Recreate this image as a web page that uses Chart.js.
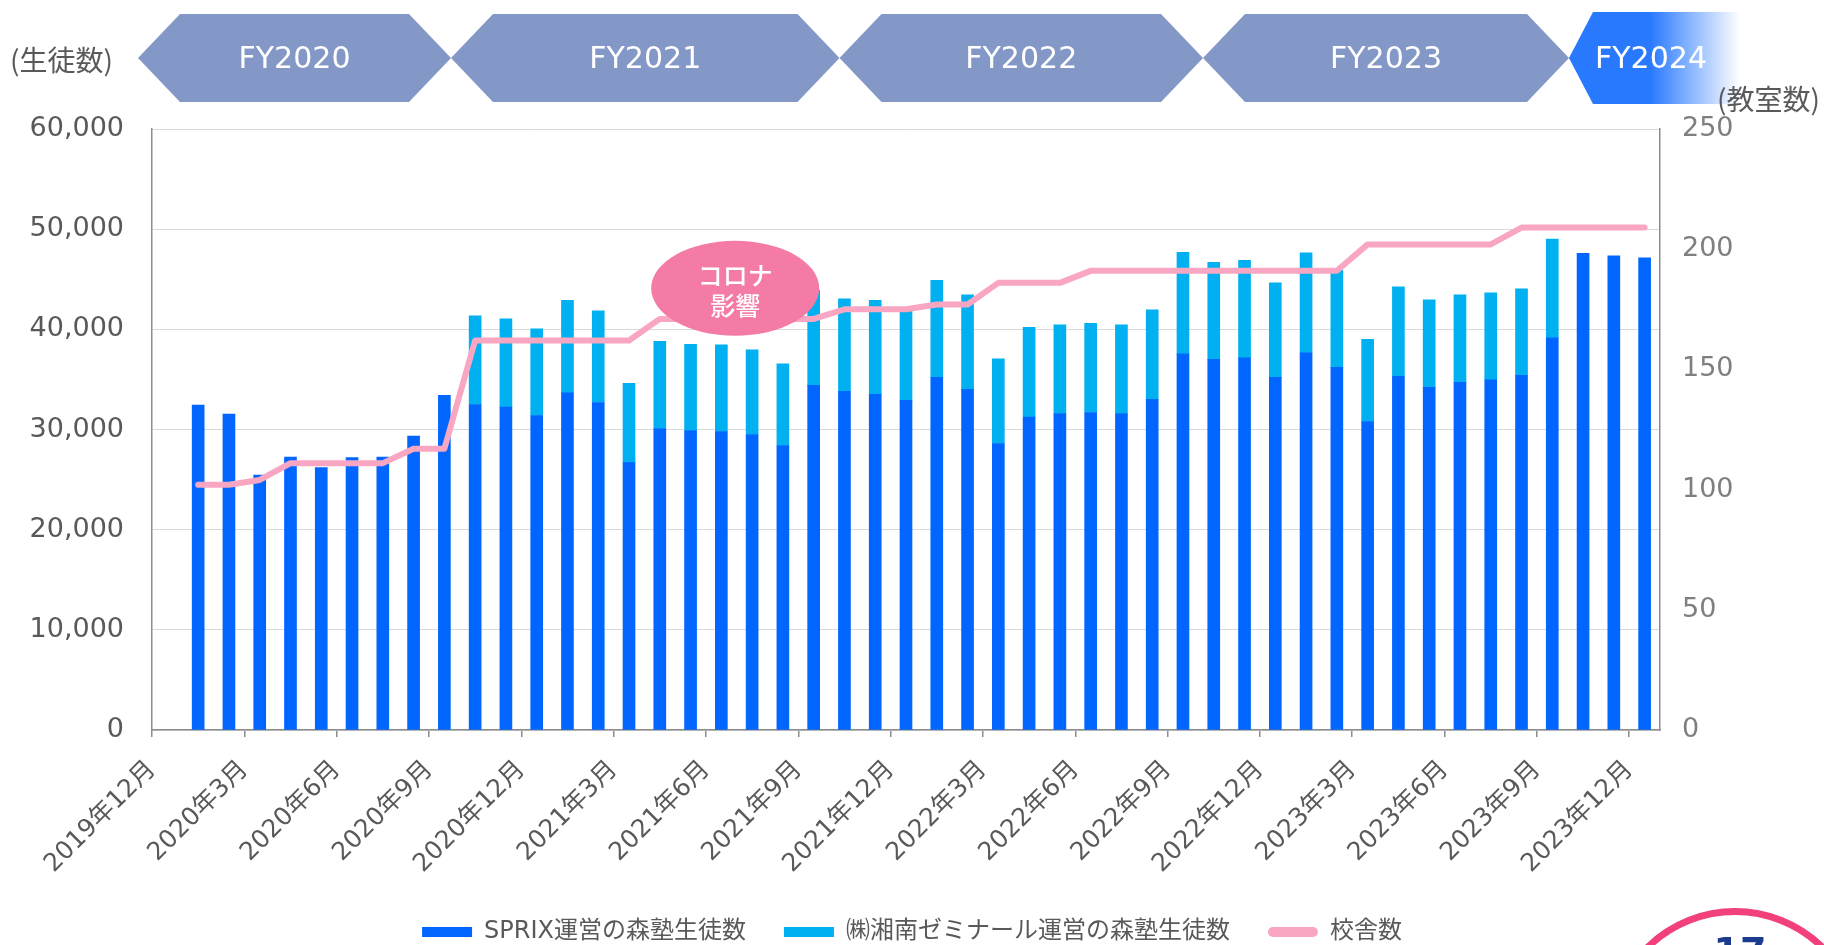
<!DOCTYPE html>
<html lang="ja">
<head>
<meta charset="UTF-8">
<title>森塾 生徒数・校舎数の推移</title>
<script src="https://cdn.jsdelivr.net/npm/chart.js@4.4.2/dist/chart.umd.min.js"></script>
<style>
  html, body { margin: 0; padding: 0; background: #ffffff; }
  .wrap { position: relative; width: 1824px; height: 945px; overflow: hidden; }
</style>
</head>
<body>
<div class="wrap"><canvas id="chart" width="1824" height="945"></canvas></div>
<script>
// x axis: one slot per month, tick labels every 3 months
const tickLabels = ['2019年12月', '2020年3月', '2020年6月', '2020年9月', '2020年12月',
  '2021年3月', '2021年6月', '2021年9月', '2021年12月', '2022年3月', '2022年6月',
  '2022年9月', '2022年12月', '2023年3月', '2023年6月', '2023年9月', '2023年12月'];

const months = ['2020年1月', '2020年2月', '2020年3月', '2020年4月', '2020年5月', '2020年6月',
  '2020年7月', '2020年8月', '2020年9月', '2020年10月', '2020年11月', '2020年12月',
  '2021年1月', '2021年2月', '2021年3月', '2021年4月', '2021年5月', '2021年6月',
  '2021年7月', '2021年8月', '2021年9月', '2021年10月', '2021年11月', '2021年12月',
  '2022年1月', '2022年2月', '2022年3月', '2022年4月', '2022年5月', '2022年6月',
  '2022年7月', '2022年8月', '2022年9月', '2022年10月', '2022年11月', '2022年12月',
  '2023年1月', '2023年2月', '2023年3月', '2023年4月', '2023年5月', '2023年6月',
  '2023年7月', '2023年8月', '2023年9月', '2023年10月', '2023年11月', '2023年12月'];

// SPRIX運営の森塾生徒数
const sprixStudents = [32450, 31550, 25450, 27250, 26200, 27200, 27250, 29350, 33400, 32500,
  32250, 31400, 33650, 32700, 26700, 30100, 29900, 29800, 29500, 28400,
  34400, 33800, 33500, 32900, 35200, 34000, 28600, 31250, 31600, 31700,
  31600, 33000, 37550, 37000, 37150, 35200, 37650, 36200, 30800, 35300,
  34200, 34700, 34950, 35400, 39150, 47600, 47350, 47150];

// ㈱湘南ゼミナール運営の森塾生徒数
const shonanStudents = [null, null, null, null, null, null, null, null, null, 8850,
  8800, 8650, 9250, 9150, 7900, 8700, 8600, 8650, 8450, 8150,
  9500, 9250, 9400, 8950, 9700, 9450, 8450, 8950, 8850, 8900,
  8850, 8950, 10150, 9700, 9750, 9450, 10000, 9700, 8200, 8950,
  8750, 8750, 8700, 8650, 9850, null, null, null];

// 校舎数
const schools = [102, 102, 104, 111, 111, 111, 111, 117, 117, 162,
  162, 162, 162, 162, 162, 171, 171, 171, 171, 171,
  171, 175, 175, 175, 177, 177, 186, 186, 186, 191,
  191, 191, 191, 191, 191, 191, 191, 191, 202, 202,
  202, 202, 202, 209, 209, 209, 209, 209];

const fiscalYears = ['FY2020', 'FY2021', 'FY2022', 'FY2023', 'FY2024'];

const SANS = '"DejaVu Sans", "Noto Sans CJK JP", sans-serif';
const CJK = '"Noto Sans CJK JP", sans-serif';
Chart.defaults.font.family = SANS;
Chart.defaults.color = '#595959';

const slot = i => i + 1.5;   // bar sits in the middle of its month slot
const toPoints = arr => arr.map((v, i) => ({ x: slot(i), y: v })).filter(p => p.y !== null);

const LEGEND_PAD = 38;

// legend sits lower than Chart.js would put it
const legendFitPlugin = {
  id: 'legendFit',
  beforeLayout(chart) {
    const lg = chart.legend;
    if (lg && !lg._fitPatched) {
      const fit = lg.fit;
      lg.fit = function () { fit.call(this); this.height = 25 + LEGEND_PAD; };
      lg._fitPatched = true;
    }
  }
};

// コロナ影響 bubble, drawn over the data
const coronaPlugin = {
  id: 'corona',
  afterDatasetsDraw(chart) {
    const { ctx, scales } = chart;
    const cx = scales.x.getPixelForValue(18.95);
    const cy = scales.y.getPixelForValue(44100);
    ctx.save();
    ctx.fillStyle = '#f47ba5';
    ctx.beginPath();
    ctx.ellipse(cx, cy, 84, 47.5, 0, 0, Math.PI * 2);
    ctx.fill();
    ctx.fillStyle = '#ffffff';
    ctx.font = '500 25px ' + CJK;
    ctx.textAlign = 'center';
    ctx.textBaseline = 'middle';
    ctx.fillText('コロナ', cx, cy - 13);
    ctx.fillText('影響', cx, cy + 17);
    ctx.restore();
  }
};

// fiscal-year banner, axis unit labels and the page badge
const decorPlugin = {
  id: 'decor',
  afterDraw(chart) {
    const ctx = chart.ctx;
    ctx.save();
    const bands = [[138, 451], [451, 839.5], [839.5, 1203], [1203, 1569]];
    bands.forEach(([l, r], i) => {
      ctx.fillStyle = '#8498c8';
      ctx.beginPath();
      ctx.moveTo(l, 58);
      ctx.lineTo(l + 42, 14);
      ctx.lineTo(r - 42, 14);
      ctx.lineTo(r, 58);
      ctx.lineTo(r - 42, 102);
      ctx.lineTo(l + 42, 102);
      ctx.closePath();
      ctx.fill();
      ctx.fillStyle = '#ffffff';
      ctx.font = '30px ' + SANS;
      ctx.textAlign = 'center';
      ctx.textBaseline = 'middle';
      ctx.fillText(fiscalYears[i], (l + r) / 2, 60);
    });
    const g = ctx.createLinearGradient(1650, 0, 1740, 0);
    g.addColorStop(0, '#2979ff');
    g.addColorStop(1, 'rgba(41,121,255,0)');
    ctx.fillStyle = g;
    ctx.beginPath();
    ctx.moveTo(1569, 58);
    ctx.lineTo(1593, 12);
    ctx.lineTo(1745, 12);
    ctx.lineTo(1745, 104);
    ctx.lineTo(1593, 104);
    ctx.closePath();
    ctx.fill();
    ctx.fillStyle = '#ffffff';
    ctx.font = '30px ' + SANS;
    ctx.textAlign = 'center';
    ctx.textBaseline = 'middle';
    ctx.fillText(fiscalYears[4], 1651, 60);

    ctx.fillStyle = '#595959';
    ctx.font = '28px ' + CJK;
    ctx.textAlign = 'left';
    ctx.fillText('(生徒数)', 10, 60);
    ctx.fillText('(教室数)', 1717, 99);

    ctx.strokeStyle = '#f2407a';
    ctx.lineWidth = 7;
    ctx.beginPath();
    ctx.arc(1735, 1036, 124.5, 0, Math.PI * 2);
    ctx.stroke();
    ctx.fillStyle = '#1b3c8e';
    ctx.font = 'bold 38px ' + SANS;
    ctx.textAlign = 'center';
    ctx.textBaseline = 'alphabetic';
    ctx.fillText('17', 1740, 964);
    ctx.restore();
  }
};

new Chart(document.getElementById('chart'), {
  type: 'bar',
  data: {
    datasets: [
      {
        label: 'SPRIX運営の森塾生徒数',
        data: toPoints(sprixStudents),
        backgroundColor: '#0066ff',
        barThickness: 12,
        yAxisID: 'y',
        order: 1
      },
      {
        label: '㈱湘南ゼミナール運営の森塾生徒数',
        data: toPoints(shonanStudents),
        backgroundColor: '#00b0f0',
        barThickness: 12,
        yAxisID: 'y',
        order: 2
      },
      {
        type: 'line',
        label: '校舎数',
        data: toPoints(schools),
        yAxisID: 'y1',
        borderColor: '#f9a6c2',
        backgroundColor: '#f9a6c2',
        borderWidth: 6,
        borderCapStyle: 'round',
        borderJoinStyle: 'round',
        pointRadius: 0,
        tension: 0,
        order: 0
      }
    ]
  },
  options: {
    responsive: false,
    animation: false,
    devicePixelRatio: 1,
    layout: { padding: { top: 129, left: 0, right: 0, bottom: 0 } },
    plugins: {
      tooltip: { enabled: false },
      legend: {
        position: 'bottom',
        labels: {
          boxWidth: 50,
          boxHeight: 10,
          padding: LEGEND_PAD,
          color: '#595959',
          font: { size: 24 },
          useBorderRadius: true,
          sort: (a, b) => a.datasetIndex - b.datasetIndex,
          generateLabels(chart) {
            const items = Chart.defaults.plugins.legend.labels.generateLabels(chart);
            items.forEach(it => {
              it.lineWidth = 0;
              it.borderRadius = it.datasetIndex === 2 ? 5 : 0;
            });
            return items;
          }
        }
      }
    },
    scales: {
      x: {
        type: 'linear',
        min: 0,
        max: 49,
        offset: false,
        stacked: true,
        afterDataLimits: s => { s.min = 0; s.max = 49; },
        afterBuildTicks: s => { s.ticks = tickLabels.map((_, i) => ({ value: i * 3 })); },
        afterFit: s => { s.height = 190 - LEGEND_PAD; },
        grid: { offset: false, drawOnChartArea: false, drawTicks: true, tickLength: 7, color: '#8c8c8c', lineWidth: 1.5 },
        border: { color: '#8c8c8c', width: 1.5 },
        ticks: {
          autoSkip: false,
          minRotation: 45,
          maxRotation: 45,
          padding: 18,
          labelOffset: 0,
          color: '#595959',
          font: { size: 25 },
          callback: (v, i) => tickLabels[i]
        }
      },
      y: {
        position: 'left',
        stacked: true,
        min: 0,
        max: 60000,
        afterFit: s => { s.width = 152; },
        grid: { color: '#d9d9d9', lineWidth: 1, drawTicks: false },
        border: { color: '#8c8c8c', width: 1.5 },
        ticks: {
          stepSize: 10000,
          padding: 28,
          color: '#595959',
          font: { size: 27 },
          callback: v => v.toLocaleString('en-US')
        }
      },
      y1: {
        position: 'right',
        min: 0,
        max: 250,
        afterFit: s => { s.width = 164; },
        grid: { drawOnChartArea: false, drawTicks: false },
        border: { color: '#8c8c8c', width: 1.5 },
        ticks: {
          stepSize: 50,
          padding: 22,
          color: '#7f7f7f',
          font: { size: 27 }
        }
      }
    }
  },
  plugins: [legendFitPlugin, coronaPlugin, decorPlugin]
});
</script>
</body>
</html>
